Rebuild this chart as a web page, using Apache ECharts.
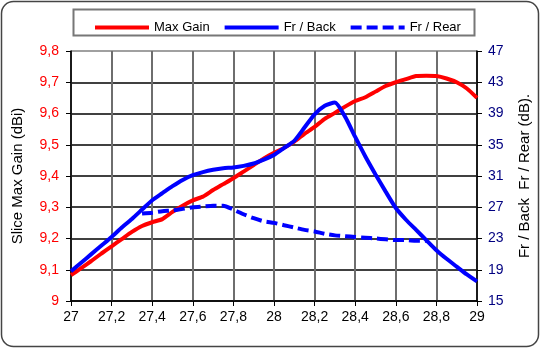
<!DOCTYPE html>
<html>
<head>
<meta charset="utf-8">
<script src="https://cdn.jsdelivr.net/npm/echarts@6/dist/echarts.min.js"></script>
<style>html,body{margin:0;padding:0;background:#fff}#c{width:541px;height:349px}</style>
</head>
<body>
<div id="c"></div>
<script>
const freq = [27.0,27.05,27.1,27.15,27.2,27.25,27.3,27.35,27.4,27.45,27.5,27.55,27.6,27.65,27.7,27.75,27.8,27.85,27.9,27.95,
  28.0,28.05,28.1,28.15,28.2,28.25,28.3,28.35,28.4,28.45,28.5,28.55,28.6,28.65,28.7,28.75,28.8,28.85,28.9,28.95,29.0];
const maxGain = [9.083,9.105,9.128,9.152,9.175,9.198,9.221,9.24,9.252,9.262,9.285,9.305,9.322,9.334,9.355,9.374,9.393,9.414,9.435,9.456,
  9.474,9.49,9.51,9.535,9.557,9.583,9.602,9.622,9.64,9.652,9.67,9.688,9.7,9.71,9.72,9.721,9.72,9.712,9.7,9.68,9.65];
const frBack = [18.8,19.9,21.0,22.1,23.2,24.4,25.5,26.7,27.9,28.8,29.7,30.5,31.1,31.5,31.8,32.0,32.1,32.3,32.6,33.1,
  33.7,34.6,35.5,37.2,38.9,40.0,40.4,38.6,36.0,33.5,31.2,29.0,26.9,25.4,24.1,22.8,21.5,20.4,19.4,18.4,17.5];
const frRear = [null,null,null,null,null,null,null,26.2,26.3,26.5,26.6,26.8,27.0,27.1,27.2,27.2,26.7,26.1,25.6,25.2,
  25.0,24.7,24.4,24.1,23.9,23.6,23.4,23.3,23.2,23.1,23.0,22.9,22.8,22.8,22.7,22.7,null,null,null,null,null];
const seriesNames = ['Max Gain','Fr / Back','Fr / Rear'];
const leftAxisName = 'Slice Max Gain (dBi)';
const rightAxisName = 'Fr / Back  Fr / Rear (dB).';

const pair = arr => freq.map((f,i) => [f, arr[i]]);
const comma = v => String(+v.toFixed(2)).replace('.', ',');
const FONT = 'Liberation Sans, Arial, sans-serif';

const chart = echarts.init(document.getElementById('c'), null, {renderer:'canvas'});
chart.setOption({
  animation: false,
  textStyle: {fontFamily: FONT},
  graphic: [
    {type:'rect', shape:{x:1.5,y:1.5,width:537,height:345,r:12}, style:{fill:'none', stroke:'#444', lineWidth:1.5}, z:-10},
    {type:'rect', shape:{x:73.5,y:9.5,width:401,height:26}, style:{fill:'#fff', stroke:'#777', lineWidth:2}, z:-5}
  ],
  legend: {
    left: 88, top: 16, itemWidth: 54, itemHeight: 12, itemGap: 13,
    textStyle: {fontFamily: FONT, fontSize: 13, color: '#000'},
    itemStyle: {opacity: 0},
    lineStyle: {width: 4},
    data: seriesNames
  },
  grid: {left: 71, right: 64, top: 51, bottom: 48},
  xAxis: {
    type: 'value', min: 27, max: 29, interval: 0.2,
    axisLine: {lineStyle: {color: '#000', width: 1.5}},
    axisTick: {length: 5, lineStyle: {color: '#000'}},
    axisLabel: {color: '#000', fontSize: 14, fontFamily: FONT, margin: 9, formatter: comma},
    splitLine: {show: true, lineStyle: {color: '#6e6e6e', width: 2}}
  },
  yAxis: [
    {
      type: 'value', min: 9, max: 9.8, interval: 0.1,
      name: leftAxisName, nameLocation: 'middle', nameGap: 46,
      nameTextStyle: {fontSize: 15, color: '#000', fontFamily: FONT},
      axisLine: {show: true, lineStyle: {color: '#000', width: 1.5}},
      axisTick: {show: true, length: 5, lineStyle: {color: '#000'}},
      axisLabel: {color: '#ff0000', fontSize: 14, fontFamily: FONT, margin: 12, formatter: comma},
      splitLine: {show: true, lineStyle: {color: ['#000','#000','#000','#000','#000','#000','#000','#000','#808080'], width: 1.5}}
    },
    {
      type: 'value', min: 15, max: 47, interval: 4, position: 'right',
      name: rightAxisName, nameLocation: 'middle', nameGap: 40, nameRotate: 90,
      nameTextStyle: {fontSize: 15, color: '#000', fontFamily: FONT},
      axisLine: {show: true, lineStyle: {color: '#000', width: 1.5}},
      axisTick: {show: true, length: 5, lineStyle: {color: '#000'}},
      axisLabel: {color: '#000080', fontSize: 14, fontFamily: FONT, margin: 11},
      splitLine: {show: false}
    }
  ],
  series: [
    {name: seriesNames[0], type: 'line', yAxisIndex: 0, data: pair(maxGain), symbol: 'none', smooth: 0.2,
      lineStyle: {color: '#ff0000', width: 4}, itemStyle: {color: '#ff0000'}, z: 3},
    {name: seriesNames[1], type: 'line', yAxisIndex: 1, data: pair(frBack), symbol: 'none', smooth: 0.2,
      lineStyle: {color: '#0000ff', width: 4}, itemStyle: {color: '#0000ff'}, z: 4},
    {name: seriesNames[2], type: 'line', yAxisIndex: 1, data: pair(frRear), symbol: 'none', smooth: 0.2,
      lineStyle: {color: '#0000ff', width: 4, type: [11, 5]}, itemStyle: {color: '#0000ff'}, z: 4}
  ]
});
</script>
</body>
</html>
